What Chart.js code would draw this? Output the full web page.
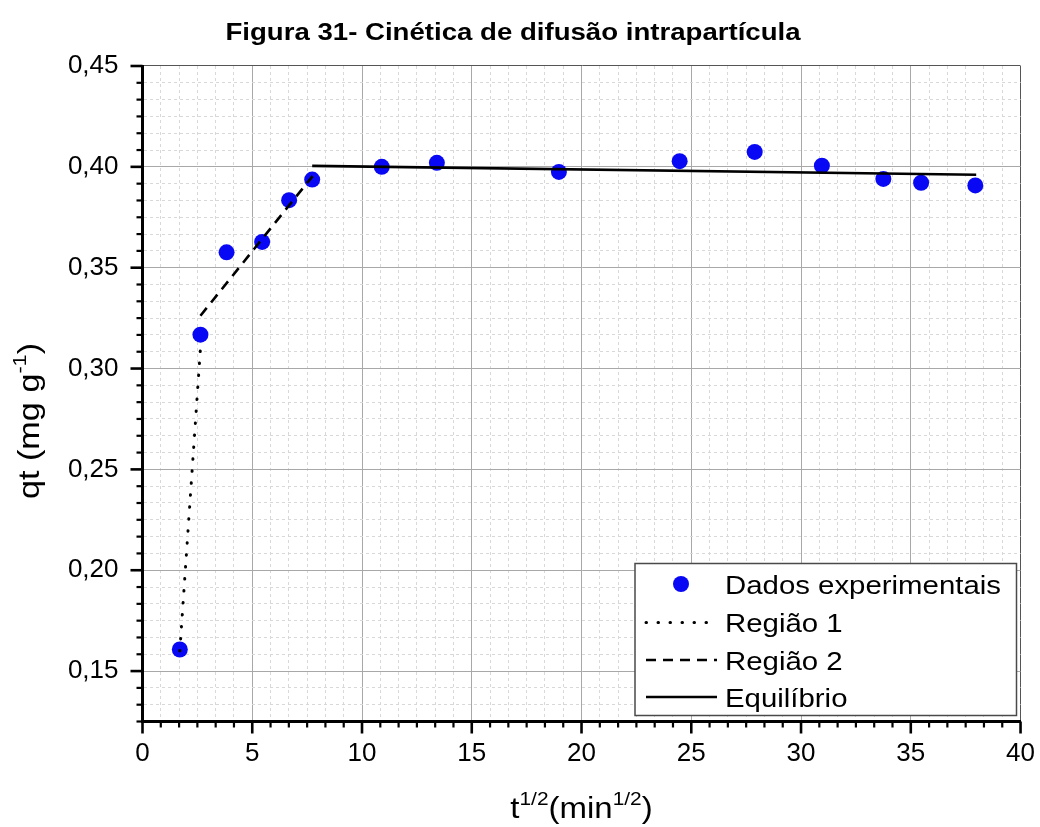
<!DOCTYPE html>
<html>
<head>
<meta charset="utf-8">
<script src="https://cdn.jsdelivr.net/npm/chart.js@4.4.1/dist/chart.umd.min.js"></script>
<style>
  html, body { margin: 0; padding: 0; background: #ffffff; }
  #wrap { width: 1040px; height: 827px; position: relative; }
</style>
</head>
<body>
<div id="wrap"><canvas id="c" width="1040" height="827"></canvas></div>
<script>
// ---------------- data ----------------
const chartTitle = 'Figura 31- Cinética de difusão intrapartícula';
const seriesLabels = ['Dados experimentais', 'Região 1', 'Região 2', 'Equilíbrio'];

const tSqrt   = [1.70, 2.64, 3.83, 5.45, 6.68, 7.73, 10.90, 13.41, 18.97, 24.47, 27.89, 30.95, 33.75, 35.47, 37.94];
const qtValues = [0.1607, 0.3168, 0.3576, 0.3628, 0.3835, 0.3937, 0.4000, 0.4020, 0.3975, 0.4028, 0.4074, 0.4006, 0.3940, 0.3921, 0.3908];

const region1X = [1.70, 2.64];
const region1Y = [0.160, 0.310];
const region2X = [2.64, 7.75];
const region2Y = [0.3262, 0.3954];
const equilX   = [7.73, 37.98];
const equilY   = [0.4005, 0.3961];

const xMajorTicks = [0, 5, 10, 15, 20, 25, 30, 35, 40];
const xTickLabels = ['0', '5', '10', '15', '20', '25', '30', '35', '40'];
const yMajorTicks = [0.15, 0.20, 0.25, 0.30, 0.35, 0.40, 0.45];
const yTickLabels = ['0,15', '0,20', '0,25', '0,30', '0,35', '0,40', '0,45'];
const xMin = 0, xMax = 40, yMin = 0.125, yMax = 0.45;
const minorDivisions = 6;

// ---------------- helpers ----------------
const FONT = '"Liberation Sans", Arial, sans-serif';
const toPts = (xs, ys) => xs.map((x, i) => ({ x: x, y: ys[i] }));

function majorIndex(majors, v) {
  const step = majors[1] - majors[0];
  const k = (v - majors[0]) / step;
  const r = Math.round(k);
  return (Math.abs(k - r) < 1e-6 && r >= 0 && r < majors.length) ? r : -1;
}
function buildTickValues(min, max, majors, n) {
  const step = (majors[1] - majors[0]) / n;
  const k0 = Math.round((min - majors[0]) / step);
  const k1 = Math.round((max - majors[0]) / step);
  const out = [];
  for (let k = k0; k <= k1; k++) out.push({ value: majors[0] + k * step });
  return out;
}

function drawRich(ctx, parts, x, y, sx) {
  ctx.save();
  ctx.translate(x, y);
  ctx.scale(sx, 1);
  ctx.textBaseline = 'alphabetic';
  ctx.textAlign = 'left';
  let total = 0;
  parts.forEach(p => { ctx.font = (p.weight || '') + ' ' + p.size + 'px ' + FONT; p.w = ctx.measureText(p.t).width; total += p.w; });
  let cx = -total / 2;
  parts.forEach(p => {
    ctx.font = (p.weight || '') + ' ' + p.size + 'px ' + FONT;
    ctx.fillText(p.t, cx, p.dy || 0);
    cx += p.w;
  });
  ctx.restore();
}

// ---------------- plugin: title, axis titles, ticks, legend ----------------
const decorPlugin = {
  id: 'decor',
  afterDraw(chart) {
    const ctx = chart.ctx;
    const area = chart.chartArea;
    const xs = chart.scales.x, ys = chart.scales.y;
    ctx.save();
    ctx.fillStyle = '#000';

    // chart title
    drawRich(ctx, [{ t: chartTitle, size: 23, weight: 'bold' }], 513, 40, 1.2);

    // x title: t^(1/2)(min^(1/2))
    drawRich(ctx, [
      { t: 't', size: 30 },
      { t: '1/2', size: 19, dy: -13 },
      { t: '(min', size: 30 },
      { t: '1/2', size: 19, dy: -13 },
      { t: ')', size: 30 }
    ], (area.left + area.right) / 2, 818, 1.1);

    // y title rotated
    ctx.save();
    ctx.translate(39, 421);
    ctx.rotate(-Math.PI / 2);
    drawRich(ctx, [
      { t: 'qt (mg g', size: 30 },
      { t: '-1', size: 19, dy: -13 },
      { t: ')', size: 30 }
    ], 0, 0, 1.14);
    ctx.restore();

    // tick marks (outward), major long, minor short
    ctx.strokeStyle = '#000';
    xs.ticks.forEach(t => {
      const px = xs.getPixelForValue(t.value);
      const maj = majorIndex(xMajorTicks, t.value) >= 0;
      ctx.lineWidth = maj ? 2.6 : 2.2;
      ctx.beginPath();
      ctx.moveTo(px, area.bottom);
      ctx.lineTo(px, area.bottom + (maj ? 12 : 6));
      ctx.stroke();
    });
    ys.ticks.forEach(t => {
      const py = ys.getPixelForValue(t.value);
      const maj = majorIndex(yMajorTicks, t.value) >= 0;
      ctx.lineWidth = maj ? 2.6 : 2.2;
      ctx.beginPath();
      ctx.moveTo(area.left, py);
      ctx.lineTo(area.left - (maj ? 12 : 6), py);
      ctx.stroke();
    });

    // legend box
    const L = { x: 635, y: 563.5, w: 381.5, h: 152 };
    ctx.fillStyle = '#fff';
    ctx.fillRect(L.x, L.y, L.w, L.h);
    ctx.strokeStyle = '#4a4a4a';
    ctx.lineWidth = 1.5;
    ctx.strokeRect(L.x, L.y, L.w, L.h);
    const rowY = [584, 622.5, 660, 697];
    const order = [0, 1, 2, 3];
    order.forEach((di, r) => {
      const ds = chart.data.datasets[di];
      const yy = rowY[r];
      if (ds.legendKind === 'point') {
        ctx.fillStyle = ds.backgroundColor;
        ctx.beginPath();
        ctx.arc(681, yy, ds.pointRadius, 0, Math.PI * 2);
        ctx.fill();
      } else {
        ctx.save();
        ctx.strokeStyle = ds.borderColor;
        ctx.lineWidth = ds.borderWidth;
        ctx.lineCap = ds.borderCapStyle || 'butt';
        ctx.setLineDash(ds.borderDash || []);
        ctx.beginPath();
        ctx.moveTo(646, yy);
        ctx.lineTo(717, yy);
        ctx.stroke();
        ctx.restore();
      }
      ctx.save();
      ctx.fillStyle = '#000';
      ctx.translate(725, yy + 9.5);
      ctx.scale(1.13, 1);
      ctx.font = '26px ' + FONT;
      ctx.textBaseline = 'alphabetic';
      ctx.textAlign = 'left';
      ctx.fillText(ds.label, 0, 0);
      ctx.restore();
    });
    ctx.restore();
  }
};

// ---------------- chart ----------------
const chart = new Chart(document.getElementById('c'), {
  type: 'scatter',
  data: {
    datasets: [
      {
        label: seriesLabels[0], legendKind: 'point',
        data: toPts(tSqrt, qtValues),
        backgroundColor: 'rgb(8,8,245)', borderColor: 'rgb(8,8,245)', borderWidth: 0,
        pointRadius: 8, pointHoverRadius: 8, order: 2
      },
      {
        label: seriesLabels[1], legendKind: 'line',
        data: toPts(region1X, region1Y), showLine: true, pointRadius: 0,
        borderColor: '#000', borderWidth: 3, borderDash: [0.5, 11.5], borderCapStyle: 'round', order: 1
      },
      {
        label: seriesLabels[2], legendKind: 'line',
        data: toPts(region2X, region2Y), showLine: true, pointRadius: 0,
        borderColor: '#000', borderWidth: 2.6, borderDash: [10, 7], order: 1
      },
      {
        label: seriesLabels[3], legendKind: 'line',
        data: toPts(equilX, equilY), showLine: true, pointRadius: 0,
        borderColor: '#000', borderWidth: 2.6, order: 1
      }
    ]
  },
  options: {
    responsive: false,
    animation: false,
    events: [],
    layout: { padding: { top: 66, right: 17.5, left: 0, bottom: 0 } },
    plugins: { legend: { display: false }, title: { display: false }, tooltip: { enabled: false } },
    scales: {
      x: {
        type: 'linear', min: xMin, max: xMax,
        afterBuildTicks: s => { s.ticks = buildTickValues(xMin, xMax, xMajorTicks, minorDivisions); },
        afterFit: s => { s.height = 105.5; },
        ticks: {
          autoSkip: false, maxRotation: 0, padding: 5, color: '#000',
          font: { family: FONT, size: 26 },
          callback: v => { const i = majorIndex(xMajorTicks, v); return i >= 0 ? xTickLabels[i] : ''; }
        },
        grid: {
          drawTicks: true, tickLength: 12, tickColor: 'rgba(0,0,0,0)',
          lineWidth: 1,
          color: c => {
            if (!c.tick) return '#bbb';
            const i = majorIndex(xMajorTicks, c.tick.value);
            if (i === xMajorTicks.length - 1) return '#555';
            return i >= 0 ? '#a8a8a8' : '#d8d8d8';
          }
        },
        border: {
          display: true, color: '#000', width: 3,
          dash: c => (c.tick && majorIndex(xMajorTicks, c.tick.value) < 0) ? [3, 3] : []
        }
      },
      y: {
        type: 'linear', min: yMin, max: yMax,
        afterBuildTicks: s => { s.ticks = buildTickValues(yMin, yMax, yMajorTicks, minorDivisions); },
        afterFit: s => { s.width = 142.5; },
        ticks: {
          autoSkip: false, padding: 12, color: '#000',
          font: { family: FONT, size: 26 },
          callback: v => { const i = majorIndex(yMajorTicks, v); return i >= 0 ? yTickLabels[i] : ''; }
        },
        grid: {
          drawTicks: true, tickLength: 12, tickColor: 'rgba(0,0,0,0)',
          lineWidth: 1,
          color: c => {
            if (!c.tick) return '#bbb';
            const i = majorIndex(yMajorTicks, c.tick.value);
            if (i === yMajorTicks.length - 1) return '#555';
            return i >= 0 ? '#a8a8a8' : '#d8d8d8';
          }
        },
        border: {
          display: true, color: '#000', width: 3,
          dash: c => (c.tick && majorIndex(yMajorTicks, c.tick.value) < 0) ? [3, 3] : []
        }
      }
    }
  },
  plugins: [decorPlugin]
});
</script>
</body>
</html>
